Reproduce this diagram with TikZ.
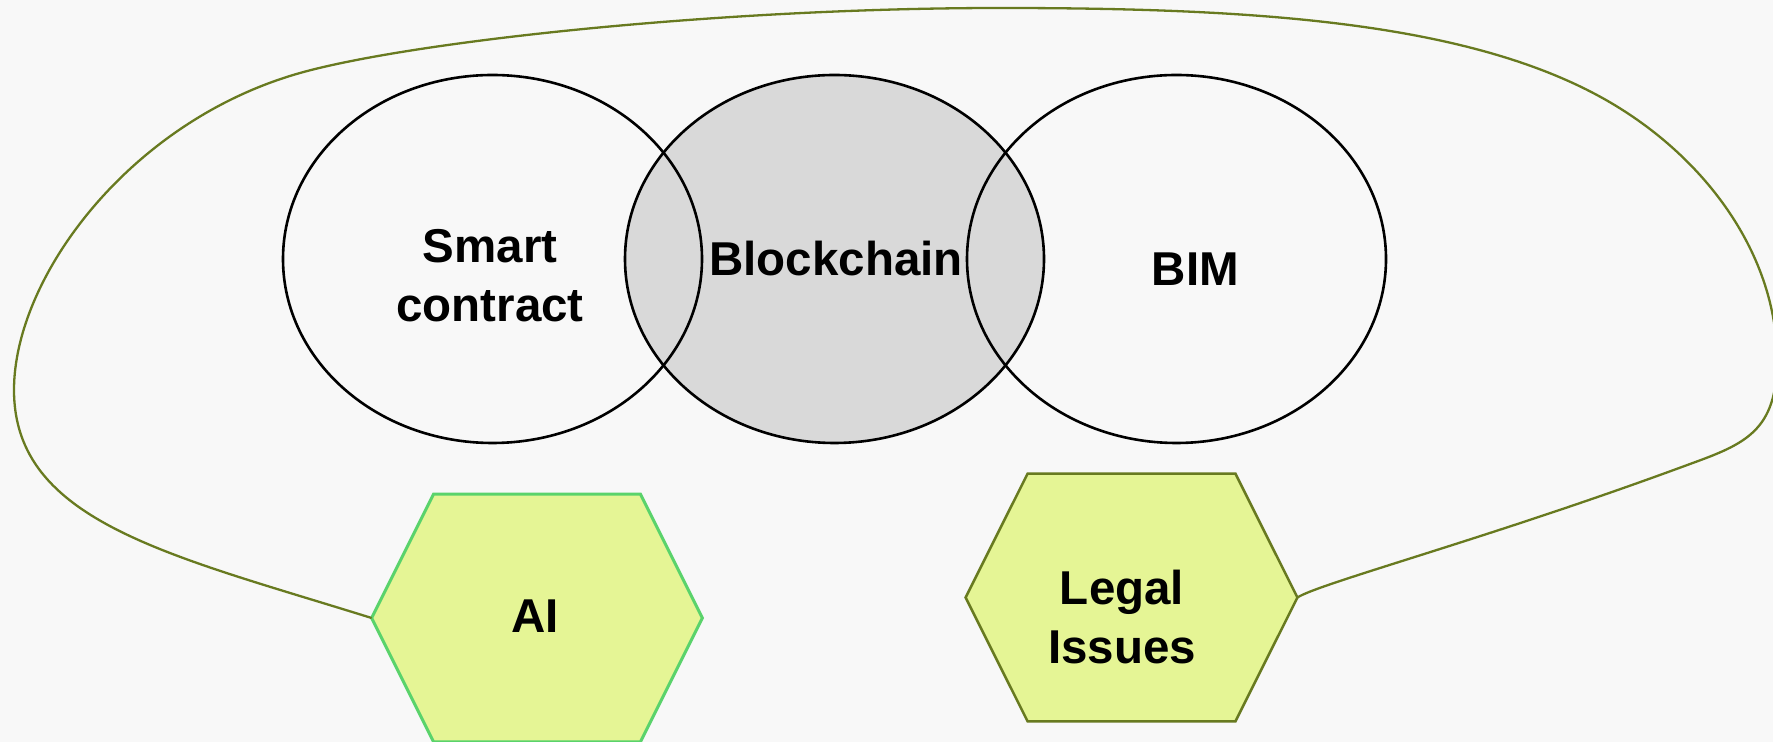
\documentclass[tikz,border=0pt]{standalone}
\usepackage{fontspec}
\setmainfont{Liberation Sans}
\usetikzlibrary{calc,shapes.geometric}
\definecolor{paperbg}{RGB}{248,248,248}
\definecolor{chainfill}{RGB}{217,217,217}
\definecolor{hexfill}{RGB}{229,245,149}
\definecolor{aiedge}{RGB}{90,211,107}
\definecolor{vineline}{RGB}{104,122,32}
\begin{document}
\begin{tikzpicture}[x=0.5pt,y=-0.5pt,
  venn/.style={ellipse, minimum width=209.5pt, minimum height=184pt,
    inner sep=0pt},
  ring/.style={line width=1.3pt},
  lbl/.style={font=\fontsize{23.75}{29.5}\selectfont\bfseries,
    align=center, inner sep=0pt},
  hexbox/.style={rectangle, minimum width=165pt, minimum height=123.5pt,
    inner sep=0pt},
  hexai/.style={fill=hexfill, draw=aiedge, line width=1.5pt},
  hexlegal/.style={fill=hexfill, draw=vineline, line width=1.25pt},
  link/.style={draw=vineline, line width=1.15pt}]

% canvas
\fill[paperbg] (0,0) rectangle (1773,742);
\useasboundingbox (0,0) rectangle (1773,742);

% Venn circles: the middle one is shaded, the outer two are open
\node[venn, fill=chainfill] (bc) at (834.5,259) {};
\node[venn] (sc) at (492.5,259) {};
\node[venn] (bim) at (1176.5,259) {};
\draw[ring] (bc.center) ellipse [x radius=209.5, y radius=184];
\draw[ring] (sc.center) ellipse [x radius=209.5, y radius=184];
\draw[ring] (bim.center) ellipse [x radius=209.5, y radius=184];

\node[lbl] (sctext) at (490,275.5) {Smart\\contract};
\node[lbl] (bctext) at (836,259) {Blockchain};
\node[lbl] (bimtext) at (1195.5,269) {BIM};

% hexagon frames
\node[hexbox] (ai) at (537,618) {};
\node[hexbox, minimum width=165.5pt] (legal) at (1131.5,597.5) {};
\draw[hexai] (ai.west) -- ($(ai.north west)+(62,0)$) -- ($(ai.north east)+(-62,0)$)
  -- (ai.east) -- ($(ai.south east)+(-62,0)$) -- ($(ai.south west)+(62,0)$) -- cycle;
\draw[hexlegal] (legal.west) -- ($(legal.north west)+(62,0)$) -- ($(legal.north east)+(-62,0)$)
  -- (legal.east) -- ($(legal.south east)+(-62,0)$) -- ($(legal.south west)+(62,0)$) -- cycle;

\node[lbl] (aitext) at (535,616) {AI};
\node[lbl] (legaltext) at (1122,617.5) {Legal\\Issues};

% loop joining the two hexagons around the Venn diagram
\draw[link] (ai.west)
  .. controls (170,555) and (14,522) .. (14,390)
  .. controls (14,277) and (130,121) .. (300,73)
  .. controls (412,41.4) and (720,8) .. (1000,8)
  .. controls (1250,8) and (1467,21) .. (1606,100)
  .. controls (1706,157) and (1777,255) .. (1777,360)
  .. controls (1777,431) and (1745,444) .. (1690,464)
  .. controls (1490,538) and (1320,583) .. (legal.east);

\end{tikzpicture}
\end{document}
